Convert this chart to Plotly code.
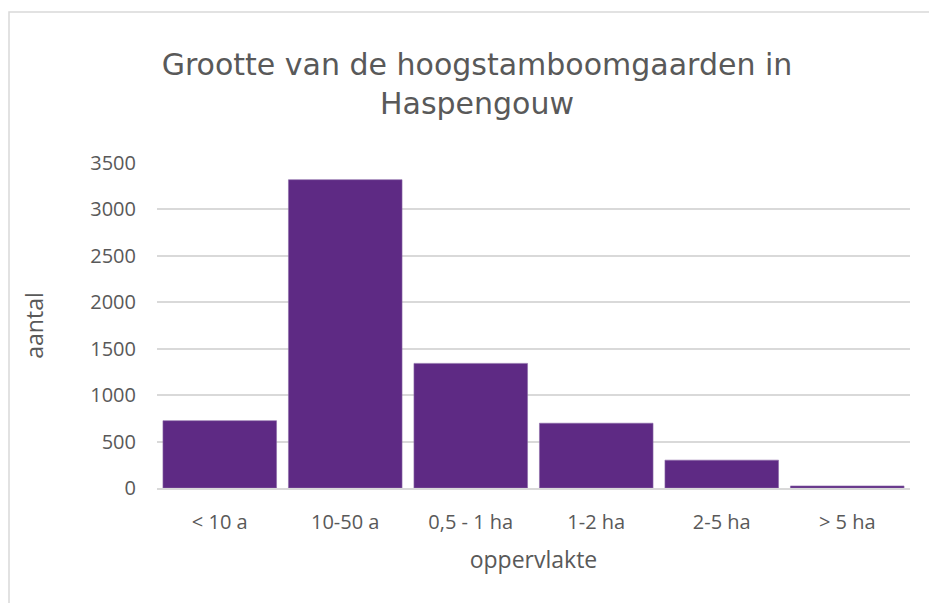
import plotly.graph_objects as go

categories = ["< 10 a", "10-50 a", "0,5 - 1 ha", "1-2 ha", "2-5 ha", "> 5 ha"]
aantal = [725, 3320, 1342, 698, 300, 22]
y_ticks = [0, 500, 1000, 1500, 2000, 2500, 3000, 3500]

TXT = "#595959"
FONT = "Open Sans"

fig = go.Figure(go.Bar(
    x=categories, y=aantal,
    marker=dict(color="#5e2a84", line=dict(color="#8c6aa8", width=0.6)),
))

# the page places the figure 8px from the window's top-left corner
OFF = 8
L, R, T, B = 157 - OFF, 27 + OFF, 163 - OFF, 115 + OFF
W, H = 937, 603
pw, ph = W - L - R, H - T - B

fig.update_layout(
    width=W, height=H,
    margin=dict(l=L, r=R, t=T, b=B),
    paper_bgcolor="white", plot_bgcolor="white",
    bargap=0.095,
    showlegend=False,
    title=dict(
        text="Grootte van de hoogstamboomgaarden in<br>Haspengouw",
        x=(477 - OFF) / W, xanchor="center",
        y=1 - 67 / H, yanchor="middle",
        font=dict(family="DejaVu Sans", size=30, color=TXT),
    ),
    font=dict(family=FONT, color=TXT),
    xaxis=dict(
        title=dict(text="oppervlakte", font=dict(size=23, color=TXT), standoff=18),
        tickfont=dict(size=20, color=TXT),
        showgrid=False, showline=True, linecolor="#d9d9d9", linewidth=1.5,
        ticks="", ticklabelstandoff=15,
    ),
    yaxis=dict(
        title=dict(text="aantal", font=dict(size=23, color=TXT), standoff=40),
        tickfont=dict(size=20, color=TXT),
        range=[0, 3500], tickvals=y_ticks,
        showgrid=True, gridcolor="#d9d9d9", gridwidth=1.5,
        zeroline=False, ticks="", ticklabelstandoff=20,
    ),
    shapes=[dict(
        type="rect", xref="paper", yref="paper",
        x0=(1 - L) / pw, x1=(980 - L) / pw,
        y0=(T + ph - 660) / ph, y1=(T + ph - (12 - OFF)) / ph,
        line=dict(color="#d9d9d9", width=1.5), fillcolor="rgba(0,0,0,0)",
        layer="below",
    )],
)

fig.write_html("out.html")
